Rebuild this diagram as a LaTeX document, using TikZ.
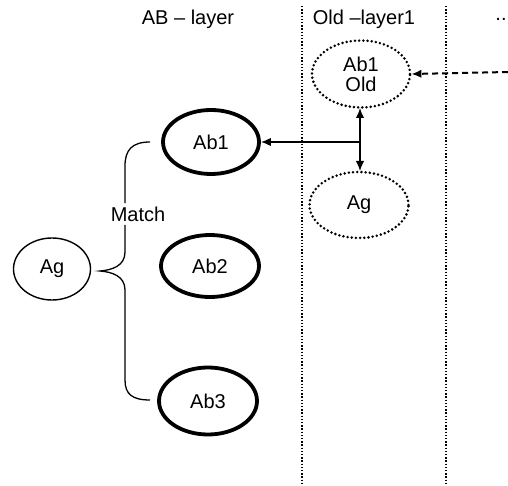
\documentclass[tikz,border=0pt]{standalone}
\usepackage{fontspec}
\setmainfont{Liberation Sans}
\usetikzlibrary{shapes.geometric,arrows.meta}
\begin{document}
\begin{tikzpicture}[x=1pt,y=-1pt,
  txt/.style={font=\fontsize{20}{23}\selectfont, align=center},
  boldell/.style={ellipse, draw, line width=3.8pt, inner sep=0pt, txt},
  thinell/.style={ellipse, draw, line width=1.4pt, inner sep=0pt, txt},
  dotell/.style={ellipse, draw, line width=2.8pt, dash pattern=on 0pt off 4.2pt, line cap=round, inner sep=0pt, txt},
  sep/.style={line width=1.4pt, dash pattern=on 1.4pt off 1.8pt},
  conn/.style={line width=1.5pt},
  tip/.style={-{Latex[length=10pt,width=8.5pt]}},
  lbl/.style={txt}]
\useasboundingbox (0,0) rectangle (508,486);
\fill[white] (0,0) rectangle (508,486);
% layer separators
\coordinate (s1t) at (302,6); \coordinate (s1b) at (302,486);
\coordinate (s2t) at (446,6); \coordinate (s2b) at (446,486);
\draw[sep] (s1t) -- (s1b);
\draw[sep] (s2t) -- (s2b);
% headings
\node[lbl] (h1) at (188,19) {AB – layer};
\node[lbl] (h2) at (364,19) {Old –layer1};
\node[lbl] (h3) at (501,19) {..};
% nodes
\node[boldell, minimum width=96pt, minimum height=64pt] (ab1) at (211,142) {Ab1};
\node[boldell, minimum width=98pt, minimum height=62pt] (ab2) at (210,266) {Ab2};
\node[boldell, minimum width=98pt, minimum height=67pt] (ab3) at (208,401) {Ab3};
\node[thinell, minimum width=77pt, minimum height=62pt] (ag) at (52,269) {Ag};
\node[dotell, minimum width=98pt, minimum height=67pt] (old) at (361,74) {Ab1\\[-3pt]Old};
\node[dotell, minimum width=99pt, minimum height=66pt] (ag2) at (359,205) {Ag};
\node[lbl] (match) at (138,214) {Match};
% connectors
\coordinate (jt) at (360,108);
\coordinate (jb) at (360,171);
\coordinate (jm) at (360,142);
\draw[conn, {Latex[length=10pt,width=8.5pt]}-{Latex[length=10pt,width=8.5pt]}] (jt) -- (jb);
\draw[conn, tip] (jm) -- (ab1.east);
\coordinate (dstart) at (508,72);
\draw[line width=2pt, tip, dash pattern=on 6pt off 4pt] (dstart) -- (old.east);
% brace
\coordinate (bt) at (150,142);
\coordinate (bb) at (150,400);
\coordinate (btip) at (100,271);
\draw[line width=1.3pt] (bt) .. controls (132,142) and (125,150) .. (125,166) -- (match.north -| 125,0);
\draw[line width=1.3pt] (match.south -| 125,0) -- (125,252)
  .. controls (125,266) and (112,270) .. (btip)
  .. controls (112,272) and (125,276) .. (125,290) -- (125,380)
  .. controls (125,394) and (132,400) .. (bb);
\end{tikzpicture}
\end{document}
